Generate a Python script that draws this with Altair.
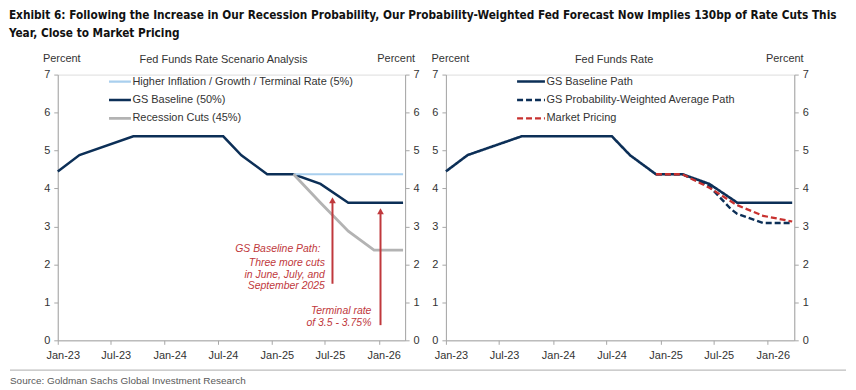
import altair as alt
import pandas as pd

# ---------------- data ----------------
title_lines = [
    "Exhibit 6: Following the Increase in Our Recession Probability, Our Probability-Weighted Fed Forecast Now Implies 130bp of Rate Cuts This",
    "Year, Close to Market Pricing",
]
source_text = "Source: Goldman Sachs Global Investment Research"
left_title = "Fed Funds Rate Scenario Analysis"
right_title = "Fed Funds Rate"

baseline_dates = ["2023/01/01", "2023/03/16", "2023/09/16", "2024/07/19", "2024/09/19",
                  "2024/12/16", "2025/03/16", "2025/06/16", "2025/09/19", "2026/03/25"]
baseline_vals = [4.45, 4.88, 5.375, 5.375, 4.875, 4.375, 4.375, 4.12, 3.625, 3.625]

higher_dates = ["2025/03/16", "2026/03/25"]
higher_vals = [4.375, 4.375]

recession_dates = ["2025/03/16", "2025/06/16", "2025/09/19", "2025/12/16", "2026/03/25"]
recession_vals = [4.375, 3.625, 2.875, 2.375, 2.375]

probw_dates = ["2024/12/16", "2025/03/16", "2025/06/16", "2025/08/28", "2025/09/19", "2025/12/16", "2026/03/25"]
probw_vals = [4.375, 4.375, 4.06, 3.46, 3.33, 3.09, 3.09]

market_dates = ["2024/12/16", "2025/03/16", "2025/06/16", "2025/09/16", "2025/12/16", "2026/03/25"]
market_vals = [4.375, 4.375, 4.02, 3.57, 3.28, 3.13]

left_names = ["Higher Inflation / Growth / Terminal Rate (5%)", "GS Baseline (50%)", "Recession Cuts (45%)"]
right_names = ["GS Baseline Path", "GS Probability-Weighted Average Path", "Market Pricing"]

ann_texts = ["GS Baseline Path:", "Three more cuts", "in June, July, and", "September 2025",
             "Terminal rate", "of 3.5 - 3.75%"]
ann_dates = ["2025/06/16", "2025/07/01", "2025/07/01", "2025/07/01", "2025/12/07", "2025/12/07"]
ann_vals = [2.40, 2.03, 1.72, 1.42, 0.76, 0.46]

arrow_dates = ["2025/07/27", "2026/01/07"]
arrow_bottom = [1.49, 0.40]
arrow_top = [3.70, 3.41]
arrow_head = [3.69, 3.40]

y_ticks = [0, 1, 2, 3, 4, 5, 6, 7]

# ---------------- styles ----------------
NAVY = "#0c2f57"
LBLUE = "#a9cfee"
GRAY = "#b3b3b3"
RED = "#c8312f"
ANN = "#c0383c"
AXIS = "#a6a6a6"
TXT = "#333333"
FONT = "Liberation Sans"
COND = "DejaVu Sans Condensed"
W, H = 349, 267


def frame(names, dates_list, vals_list):
    rows = []
    for n, ds, vs in zip(names, dates_list, vals_list):
        for d, v in zip(ds, vs):
            rows.append({"series": n, "date": d, "value": v})
    return pd.DataFrame(rows)


left_df = frame([left_names[1], left_names[0], left_names[2]],
                [baseline_dates, higher_dates, recession_dates],
                [baseline_vals, higher_vals, recession_vals])
right_df = frame(right_names, [baseline_dates, probw_dates, market_dates],
                 [baseline_vals, probw_vals, market_vals])
ann_df = pd.DataFrame({"text": ann_texts, "date": ann_dates, "value": ann_vals})
arrow_df = pd.DataFrame({"date": arrow_dates, "y1": arrow_bottom, "y2": arrow_top, "head": arrow_head})
axis_df = pd.DataFrame({"v": y_ticks})
one_df = pd.DataFrame({"v": [0]})

x_scale = alt.Scale(domain=[alt.DateTime(year=2023, month=1, date=1),
                            alt.DateTime(year=2026, month=4, date=1)])
x_vals = [alt.DateTime(year=y, month=m, date=1)
          for (y, m) in [(2023, 1), (2023, 7), (2024, 1), (2024, 7), (2025, 1), (2025, 7), (2026, 1)]]
x_axis = alt.Axis(values=x_vals, format="%b-%y", title=None, grid=False,
                  labelFont=FONT, labelFontSize=11, labelColor=TXT, labelPadding=5,
                  labelOffset=5, labelFlush=False, tickSize=4, tickColor=AXIS, domainColor=AXIS)
y_scale = alt.Scale(domain=[0, 7], nice=False)


def y_axis(orient, tx):
    return alt.Axis(orient=orient, values=y_ticks, format="d", grid=False,
                    title="Percent", titleAngle=0, titleX=tx, titleY=-16,
                    titleAlign="center", titleBaseline="middle",
                    titleFont=FONT, titleFontSize=11, titleFontWeight="normal", titleColor=TXT,
                    labelFont=FONT, labelFontSize=11, labelColor=TXT, labelPadding=4,
                    labelOverlap=False, tickSize=4, tickColor=AXIS, domainColor=AXIS)


def legend(x, y, size):
    return alt.Legend(orient="none", legendX=x, legendY=y, title=None, padding=0,
                      labelFont=FONT, labelFontSize=11, labelColor=TXT, labelOffset=0,
                      labelLimit=400, symbolType="stroke", symbolSize=size,
                      symbolStrokeWidth=2.6, clipHeight=16, rowPadding=2.5)


X = alt.X("date:T", scale=x_scale, axis=x_axis)
YL = y_axis("left", 3.5)

# ---------------- left panel ----------------
left_lines = alt.Chart(left_df).mark_line().encode(
    x=X,
    y=alt.Y("value:Q", scale=y_scale, axis=YL),
    color=alt.Color("series:N", scale=alt.Scale(domain=left_names, range=[LBLUE, NAVY, GRAY]),
                    legend=legend(50, -1, 484)),
    strokeWidth=alt.StrokeWidth("series:N", scale=alt.Scale(domain=left_names, range=[2.2, 2.8, 2.5]),
                                legend=None),
    detail="series:N",
)
ann = alt.Chart(ann_df).mark_text(align="right", baseline="middle", font=FONT, fontSize=10.5,
                                  fontStyle="italic", color=ANN).encode(
    x=X, y=alt.Y("value:Q", scale=y_scale, axis=YL), text="text:N")
arrows = alt.Chart(arrow_df).mark_rule(color=ANN, strokeWidth=2).encode(
    x=X, y=alt.Y("y1:Q", scale=y_scale, axis=YL), y2="y2:Q")
heads = alt.Chart(arrow_df).mark_point(shape="triangle-up", filled=True, size=45, color=ANN,
                                       opacity=1).encode(
    x=X, y=alt.Y("head:Q", scale=y_scale, axis=YL))
sep = alt.Chart(one_df).mark_rule(stroke="#bdbdbd", strokeWidth=1.2, opacity=1).encode(
    x=alt.value(-48), x2=alt.value(792), y=alt.value(H + 30), y2=alt.value(H + 30))
src = alt.Chart(one_df).mark_text(align="left", baseline="middle", font=FONT, fontSize=10,
                                  color="#5a5a5a").encode(
    x=alt.value(-48), y=alt.value(H + 41), text=alt.value(source_text))
left_right_axis = alt.Chart(axis_df).mark_point(opacity=0).encode(
    y=alt.Y("v:Q", scale=y_scale, axis=y_axis("right", -9.5)))

left = alt.layer(
    alt.layer(left_lines, arrows, heads, ann, sep, src),
    left_right_axis,
).resolve_scale(y="independent").properties(
    width=W, height=H,
    title=alt.TitleParams(left_title, font=FONT, fontSize=11, fontWeight="normal", color=TXT,
                          anchor="middle", frame="group", dx=-8, offset=-12),
)

# ---------------- right panel ----------------
right_lines = alt.Chart(right_df).mark_line().encode(
    x=X,
    y=alt.Y("value:Q", scale=y_scale, axis=y_axis("left", 4)),
    color=alt.Color("series:N", scale=alt.Scale(domain=right_names, range=[NAVY, NAVY, RED]),
                    legend=legend(70, -1, 784)),
    strokeDash=alt.StrokeDash("series:N", scale=alt.Scale(domain=right_names,
                                                          range=[[1, 0], [6, 3], [6, 3]]),
                              legend=legend(70, -1, 784)),
    strokeWidth=alt.StrokeWidth("series:N", scale=alt.Scale(domain=right_names, range=[2.6, 2.3, 2.3]),
                                legend=None),
)
right_right_axis = alt.Chart(axis_df).mark_point(opacity=0).encode(
    y=alt.Y("v:Q", scale=y_scale, axis=y_axis("right", -10)))

right = alt.layer(right_lines, right_right_axis).resolve_scale(y="independent").properties(
    width=350, height=H,
    title=alt.TitleParams(right_title, font=FONT, fontSize=11, fontWeight="normal", color=TXT,
                          anchor="middle", frame="group", dx=-6, offset=-12),
)

chart = alt.hconcat(left, right, spacing=41, bounds="flush").resolve_scale(
    color="independent", strokeDash="independent", strokeWidth="independent"
).properties(
    padding=0,
    title=alt.TitleParams(title_lines, anchor="start", frame="bounds", font=COND, fontSize=11.8,
                          fontWeight="bold", color="#111111", lineHeight=19, offset=12),
).configure_view(stroke=None).configure(background="white")

chart.save("out.html", embed_options={"renderer": "svg", "actions": False})
